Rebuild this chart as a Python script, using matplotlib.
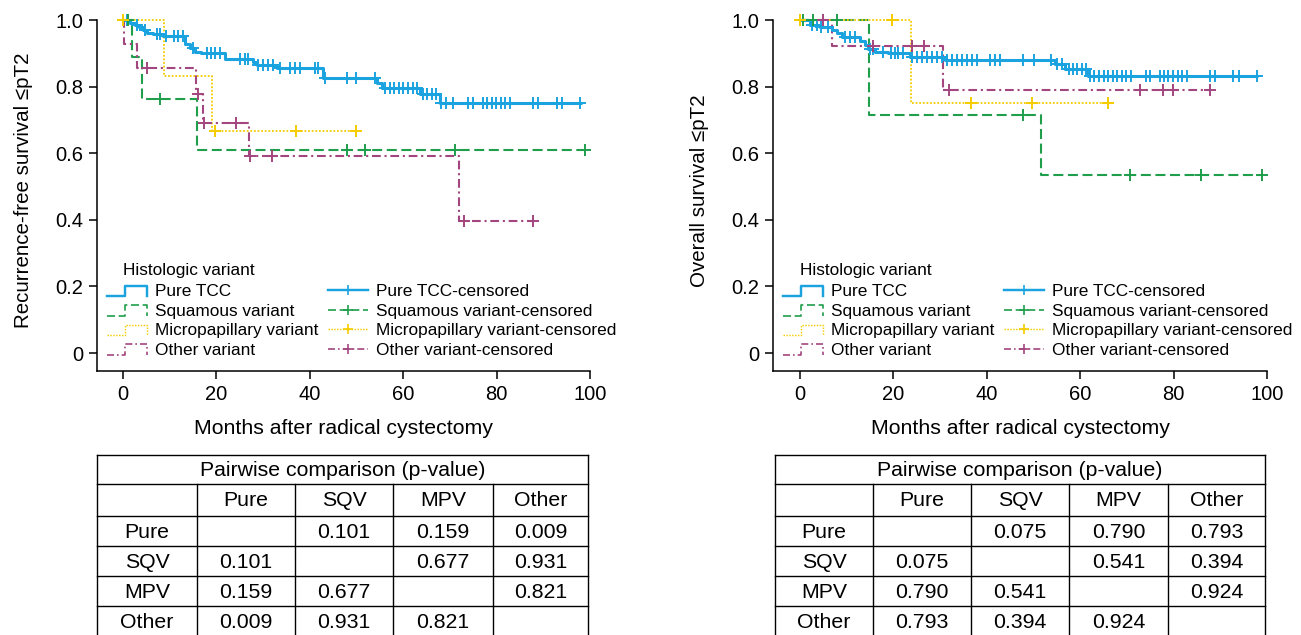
import numpy as np
import matplotlib
matplotlib.use('Agg')
import matplotlib.pyplot as plt
from matplotlib.lines import Line2D
from matplotlib.legend_handler import HandlerBase

plt.rcParams['font.family'] = ['Liberation Sans', 'DejaVu Sans']

# ---------------- data ----------------
groups = ['Pure TCC', 'Squamous variant', 'Micropapillary variant', 'Other variant']
short = ['Pure', 'SQV', 'MPV', 'Other']

# Recurrence-free survival (left panel)
rfs_pure_t = [0, 1.6, 2.6, 3.5, 4.3, 5.1, 6.5, 8.6, 13.3, 14.3, 15.4, 16.8, 21.8, 27.9, 28.6,
              32.9, 42.9, 54.3, 55.4, 63.6, 67.9]
rfs_pure_s = [1.0, 0.992, 0.985, 0.978, 0.970, 0.962, 0.958, 0.952, 0.927, 0.915, 0.905, 0.900,
              0.882, 0.875, 0.865, 0.855, 0.827, 0.812, 0.797, 0.777, 0.752]
rfs_pure_end = 98.2
rfs_pure_c = [0.8, 3.0, 4.8, 7.2, 7.9, 9.2, 10.9, 11.8, 12.8, 15.0, 17.9, 18.8, 19.7, 20.8, 25.1,
              26.1, 26.8, 29.0, 30.0, 31.1, 32.2, 33.6, 35.8, 36.8, 37.9, 41.1, 41.8, 43.3, 47.9,
              49.9, 54.0, 56.2, 57.2, 58.1, 59.1, 60.0, 61.0, 62.0, 62.9, 64.2, 65.2, 66.1, 67.0,
              68.2, 69.2, 70.7, 73.9, 74.9, 77.0, 78.0, 79.0, 79.9, 80.9, 81.9, 82.9, 87.9, 88.9,
              92.9, 94.0, 97.9]

rfs_sqv_t = [0, 1.9, 4.0, 15.9]
rfs_sqv_s = [1.0, 0.889, 0.762, 0.609]
rfs_sqv_end = 99.1
rfs_sqv_c = [1.1, 7.9, 47.9, 51.8, 71.1, 98.9]

rfs_mpv_t = [0, 8.8, 19.1]
rfs_mpv_s = [1.0, 0.833, 0.667]
rfs_mpv_end = 49.9
rfs_mpv_c = [0.0, 19.7, 37.0, 49.9]

rfs_oth_t = [0, 0.15, 2.9, 15.6, 17.1, 26.9, 71.9]
rfs_oth_s = [1.0, 0.929, 0.857, 0.779, 0.692, 0.593, 0.395]
rfs_oth_end = 87.9
rfs_oth_c = [5.1, 16.0, 17.3, 24.1, 27.2, 32.0, 73.0, 87.9]

# Overall survival (right panel)
os_pure_t = [0, 2.1, 4.3, 6.8, 7.9, 8.9, 12.8, 13.9, 14.6, 16.1, 18.9, 23.6, 31.0, 54.6, 56.7, 61.7]
os_pure_s = [1.0, 0.985, 0.978, 0.970, 0.960, 0.948, 0.938, 0.925, 0.912, 0.905, 0.900, 0.890,
             0.880, 0.867, 0.852, 0.833]
os_pure_end = 98.1
os_pure_c = [2.5, 3.6, 4.6, 6.0, 9.6, 10.7, 11.8, 15.0, 15.7, 17.8, 19.5, 20.3, 21.0, 22.1, 23.9,
             25.0, 26.1, 27.1, 28.2, 29.3, 30.3, 31.4, 32.5, 33.6, 34.6, 35.7, 36.8, 37.8, 40.7,
             41.8, 42.8, 47.8, 50.0, 53.7, 55.1, 56.0, 57.5, 58.4, 59.4, 60.3, 61.2, 62.1, 63.0,
             64.0, 65.0, 66.0, 67.0, 67.9, 68.9, 69.8, 70.8, 74.1, 74.9, 77.1, 77.9, 78.9, 79.9,
             80.9, 81.9, 82.8, 87.9, 88.9, 92.8, 93.9, 97.9]

os_sqv_t = [0, 14.8, 51.7]
os_sqv_s = [1.0, 0.714, 0.536]
os_sqv_end = 99.0
os_sqv_c = [0.7, 2.8, 7.9, 47.8, 70.7, 85.9, 99.0]

os_mpv_t = [0, 23.7]
os_mpv_s = [1.0, 0.75]
os_mpv_end = 65.9
os_mpv_c = [0.0, 19.8, 36.6, 49.7, 65.9]

os_oth_t = [0, 6.8, 30.7]
os_oth_s = [1.0, 0.923, 0.790]
os_oth_end = 87.8
os_oth_c = [4.9, 15.7, 23.9, 26.6, 31.8, 72.7, 77.8, 79.9, 87.8]

# Pairwise log-rank p-values
rfs_p = [['', '0.101', '0.159', '0.009'],
         ['0.101', '', '0.677', '0.931'],
         ['0.159', '0.677', '', '0.821'],
         ['0.009', '0.931', '0.821', '']]
os_p = [['', '0.075', '0.790', '0.793'],
        ['0.075', '', '0.541', '0.394'],
        ['0.790', '0.541', '', '0.924'],
        ['0.793', '0.394', '0.924', '']]

x_ticks = [0, 20, 40, 60, 80, 100]
y_ticks = [0, 0.2, 0.4, 0.6, 0.8, 1.0]
y_ticklabels = ['0', '0.2', '0.4', '0.6', '0.8', '1.0']

# ---------------- styles ----------------
styles = [
    dict(color='#1ba3e0', lw=2.2, ls='-'),
    dict(color='#1f9e4c', lw=1.5, ls=(0, (4.8, 2.2))),
    dict(color='#f5cc00', lw=1.3, ls=(0, (1, 1))),
    dict(color='#a3467f', lw=1.5, ls=(0, (4.2, 1.8, 1.0, 1.8))),
]

W, H = 1301, 635
fig = plt.figure(figsize=(W / 100, H / 100), dpi=100)


class StepProxy(Line2D):
    pass


class StepHandler(HandlerBase):
    def create_artists(self, legend, orig_handle, xdescent, ydescent, width, height,
                       fontsize, trans):
        x0 = -xdescent
        x1 = x0 + width
        xm = x0 + width * 0.45
        y0 = -ydescent + height * 0.0
        y1 = -ydescent + height * 0.85
        ln = Line2D([x0, xm, xm, x1, x1], [y0, y0, y1, y1, y0])
        ln.update_from(orig_handle)
        ln.set_marker('None')
        ln.set_transform(trans)
        return [ln]


def draw_panel(left_px, zero_px, curves, ylabel):
    px_per = 4.67
    xmin = (left_px - zero_px) / px_per
    xmax = 102.5
    bottom_px, top_px = 371, 10
    ymin = -0.054
    ymax = ymin + (bottom_px - top_px) / 333.0
    width_px = (xmax - xmin) * px_per
    ax = fig.add_axes([left_px / W, 1 - bottom_px / H, width_px / W, (bottom_px - top_px) / H])
    ax.set_xlim(xmin, xmax)
    ax.set_ylim(ymin, ymax)
    for (t, s, end, c), st in zip(curves, styles):
        tt = list(t) + [end]
        ss = list(s) + [s[-1]]
        ax.step(tt, ss, where='post', color=st['color'], lw=st['lw'], ls=st['ls'],
                solid_capstyle='butt', dash_capstyle='butt', zorder=3 if st['ls'] == '-' else 2)
        idx = np.searchsorted(np.array(t), np.array(c), side='right') - 1
        cy = np.array(s)[idx]
        ax.plot(c, cy, ls='none', marker='+', ms=9, mew=1.4, color=st['color'], zorder=4)
    for sp in ['top', 'right']:
        ax.spines[sp].set_visible(False)
    ax.spines['left'].set_bounds(ymin, 1.0)
    ax.spines['bottom'].set_bounds(xmin, 100)
    for sp in ['left', 'bottom']:
        ax.spines[sp].set_linewidth(1.1)
    ax.set_xticks(x_ticks)
    ax.set_xticklabels([str(v) for v in x_ticks])
    ax.set_yticks(y_ticks)
    ax.set_yticklabels(y_ticklabels)
    ax.tick_params(direction='out', length=6, width=1.1, labelsize=14.5, pad=4)
    ax.set_xlabel('Months after radical cystectomy', fontsize=15.3)
    spine_right_px = zero_px + 100 * px_per
    xc = (left_px + spine_right_px) / 2
    ax.xaxis.set_label_coords((xc - left_px) / width_px, (371 - 419) / 361.0)
    ax.set_ylabel(ylabel, fontsize=14.8)
    ax.yaxis.set_label_coords(-(left_px - (left_px - 64)) / width_px, 0.5)

    # legend
    step_h = [StepProxy([], [], color=st['color'], lw=st['lw'] * 0.8, ls=st['ls']) for st in styles]
    cens_h = [Line2D([], [], color=st['color'], lw=st['lw'] * 0.8, ls=st['ls'], marker='+',
                     ms=7, mew=1.2) for st in styles]
    labels = groups + [g + '-censored' for g in groups]
    ax.legend(step_h + cens_h, labels, handler_map={StepProxy: StepHandler()}, ncol=2,
              frameon=False, fontsize=12.4, handlelength=2.3, handletextpad=0.5,
              columnspacing=0.55, labelspacing=0.26, borderpad=0, borderaxespad=0,
              numpoints=1, loc='upper left',
              bbox_to_anchor=((left_px + 10) / W, 1 - 284 / H),
              bbox_transform=fig.transFigure)
    fig.text((zero_px) / W, 1 - 270 / H, 'Histologic variant', fontsize=12.4,
             ha='left', va='center')
    return ax


def draw_table(x_edges, pvals):
    top = 455
    row_edges = [0, 29, 61, 91, 121, 151, 181]
    x0, x1 = x_edges[0], x_edges[-1]
    tax = fig.add_axes([x0 / W, 1 - (top + 181) / H, (x1 - x0) / W, 181 / H])
    tax.set_xlim(0, x1 - x0)
    tax.set_ylim(181, 0)
    tax.axis('off')
    xe = [x - x0 for x in x_edges]
    lw = 1.0
    for y in row_edges[:-1]:
        tax.plot([xe[0], xe[-1]], [y, y], color='black', lw=lw, clip_on=False,
                 solid_capstyle='projecting')
    tax.plot([xe[0], xe[0]], [0, 181], color='black', lw=lw, clip_on=False)
    tax.plot([xe[-1], xe[-1]], [0, 181], color='black', lw=lw, clip_on=False)
    for x in xe[1:-1]:
        tax.plot([x, x], [row_edges[1], 181], color='black', lw=lw, clip_on=False)
    fs = 15.3
    tax.text((xe[0] + xe[-1]) / 2, (row_edges[0] + row_edges[1]) / 2 + 0.5,
             'Pairwise comparison (p-value)', ha='center', va='center', fontsize=fs)
    for j, h in enumerate(short):
        tax.text((xe[j + 1] + xe[j + 2]) / 2, (row_edges[1] + row_edges[2]) / 2 + 1, h,
                 ha='center', va='center', fontsize=fs)
    for i, r in enumerate(short):
        yc = (row_edges[i + 2] + row_edges[i + 3]) / 2 + 1
        tax.text((xe[0] + xe[1]) / 2, yc, r, ha='center', va='center', fontsize=fs)
        for j in range(4):
            tax.text((xe[j + 1] + xe[j + 2]) / 2, yc, pvals[i][j], ha='center', va='center',
                     fontsize=fs)


draw_panel(97, 123,
           [(rfs_pure_t, rfs_pure_s, rfs_pure_end, rfs_pure_c),
            (rfs_sqv_t, rfs_sqv_s, rfs_sqv_end, rfs_sqv_c),
            (rfs_mpv_t, rfs_mpv_s, rfs_mpv_end, rfs_mpv_c),
            (rfs_oth_t, rfs_oth_s, rfs_oth_end, rfs_oth_c)],
           'Recurrence-free survival ≤pT2')
draw_panel(773, 800,
           [(os_pure_t, os_pure_s, os_pure_end, os_pure_c),
            (os_sqv_t, os_sqv_s, os_sqv_end, os_sqv_c),
            (os_mpv_t, os_mpv_s, os_mpv_end, os_mpv_c),
            (os_oth_t, os_oth_s, os_oth_end, os_oth_c)],
           'Overall survival ≤pT2')

draw_table([97, 197, 295, 393, 493, 588], rfs_p)
draw_table([775, 873, 971, 1069, 1168, 1265], os_p)

fig.savefig('out.png', dpi=100)
